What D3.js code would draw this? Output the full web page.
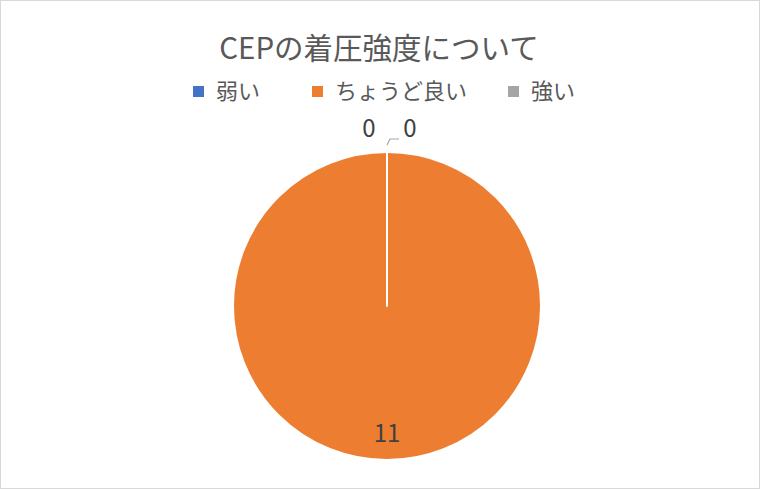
<!DOCTYPE html>
<html lang="ja">
<head>
<meta charset="UTF-8">
<script src="https://d3js.org/d3.v7.min.js"></script>
<style>
  body { margin: 0; background: #fff; }
  text { font-family: "Noto Sans CJK JP", "Noto Sans", sans-serif; fill: #595959; }
</style>
</head>
<body>
<div id="chart"></div>
<script>
const categories = ["弱い", "ちょうど良い", "強い"];
const values = [0, 11, 0];
const colors = ["#4472C4", "#ED7D31", "#A5A5A5"];
const title = "CEPの着圧強度について";

const width = 760, height = 489;
const cx = 387, cy = 306, radius = 154;

const svg = d3.select("#chart").append("svg")
    .attr("width", width)
    .attr("height", height);

svg.append("rect")
    .attr("x", 0.5).attr("y", 0.5)
    .attr("width", width - 1).attr("height", height - 1)
    .attr("fill", "#fff")
    .attr("stroke", "#d9d9d9");

// title
svg.append("text")
    .attr("x", 379).attr("y", 59)
    .attr("text-anchor", "middle")
    .attr("font-size", 29.5)
    .text(title);

// legend
const legendX = [193, 312, 508];
const legend = svg.selectAll(".legend")
    .data(categories)
    .enter().append("g")
    .attr("class", "legend")
    .attr("transform", (d, i) => `translate(${legendX[i]},86)`);
legend.append("rect")
    .attr("width", 11).attr("height", 11)
    .attr("fill", (d, i) => colors[i]);
legend.append("text")
    .attr("x", 23).attr("y", 13)
    .attr("font-size", 22)
    .text(d => d);

// pie
const pie = d3.pie().sort(null).value(d => d);
const arcs = pie(values);
const arc = d3.arc().innerRadius(0).outerRadius(radius);
const g = svg.append("g").attr("transform", `translate(${cx},${cy})`);

g.selectAll("path")
    .data(arcs)
    .enter().append("path")
    .attr("d", arc)
    .attr("fill", (d, i) => colors[i])
    .attr("stroke", "#fff")
    .attr("stroke-width", 2)
    .attr("stroke-linejoin", "round");

// labels
const labelArc = d3.arc().innerRadius(radius * 0.83).outerRadius(radius * 0.83);
arcs.forEach((d, i) => {
    if (d.value > 0) {
        const [x, y] = labelArc.centroid(d);
        g.append("text")
            .attr("x", x).attr("y", y)
            .attr("text-anchor", "middle")
            .attr("dy", "0.35em")
            .attr("font-size", 24)
            .style("fill", "#404040")
            .text(d.value);
    }
});

// zero-value labels above the top of the pie
const zeroIdx = arcs.map((d, i) => i).filter(i => arcs[i].value === 0);
const zeroDx = [-18, 23];
zeroIdx.forEach((idx, k) => {
    g.append("text")
        .attr("x", zeroDx[k]).attr("y", -radius - 23)
        .attr("text-anchor", "middle")
        .attr("dy", "0.35em")
        .attr("font-size", 24)
        .style("fill", "#404040")
        .text(arcs[idx].value);
});
// leader line for the last zero label
g.append("path")
    .attr("d", `M0,${-radius - 7} L3,${-radius - 13} L12,${-radius - 13}`)
    .attr("fill", "none")
    .attr("stroke", "#a6a6a6")
    .attr("stroke-width", 1.2);
</script>
</body>
</html>
